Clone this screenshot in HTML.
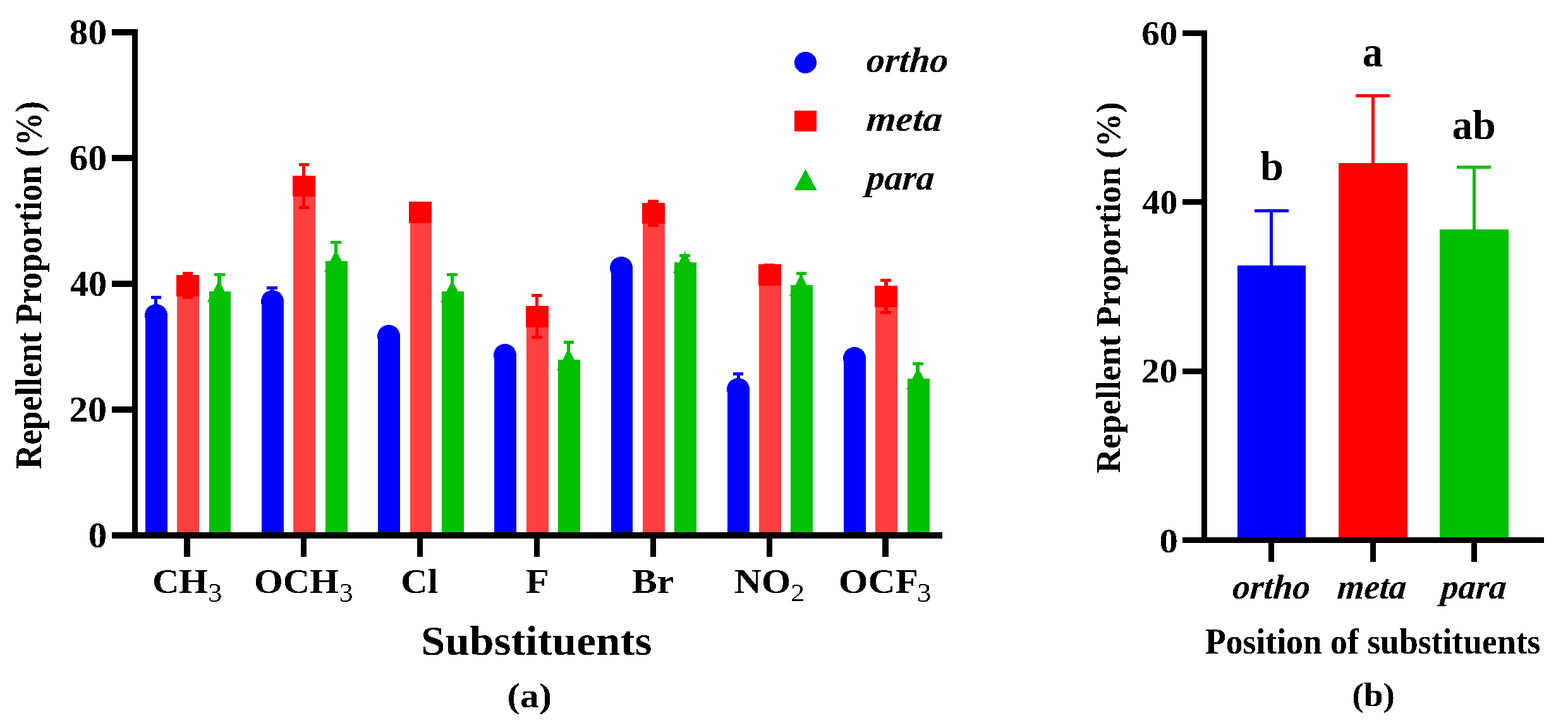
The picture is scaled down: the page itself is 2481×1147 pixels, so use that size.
<!DOCTYPE html>
<html lang="en">
<head>
<meta charset="utf-8">
<title>Repellent Proportion by substituent and position</title>
<style>
html,body{margin:0;padding:0;background:#fff;}
body{width:2481px;height:1147px;overflow:hidden;}
svg{display:block;}
svg text{font-family:"Liberation Serif",serif;font-size:100px;fill:#000;}
</style>
</head>
<body>
<svg width="2481" height="1147" viewBox="0 0 2481 1147">
<rect x="0" y="0" width="2481" height="1147" fill="#ffffff"/>
<g shape-rendering="crispEdges">
<rect x="230" y="499" width="35" height="343" fill="#0000FF"/>
<rect x="239" y="468" width="16" height="5" fill="#0000FF"/>
<rect x="244" y="468" width="5" height="31" fill="#0000FF"/>
<ellipse cx="247" cy="499" rx="18" ry="18" fill="#0000FF"/>
<rect x="280" y="452" width="35" height="390" fill="#FF4040"/>
<rect x="289" y="430" width="16" height="5" fill="#FF0000"/>
<rect x="289" y="468" width="16" height="5" fill="#FF0000"/>
<rect x="294" y="430" width="5" height="43" fill="#FF0000"/>
<rect x="279" y="435" width="36" height="34" fill="#FF0000"/>
<rect x="331" y="461" width="34" height="381" fill="#00C000"/>
<rect x="339" y="432" width="17" height="5" fill="#00C000"/>
<rect x="344" y="432" width="6" height="29" fill="#00C000"/>
<polygon points="346.5,444 365,478 328,478" fill="#00C000"/>
<rect x="414" y="477" width="35" height="365" fill="#0000FF"/>
<rect x="422" y="453" width="17" height="5" fill="#0000FF"/>
<rect x="428" y="453" width="5" height="24" fill="#0000FF"/>
<ellipse cx="431" cy="477" rx="18" ry="18" fill="#0000FF"/>
<rect x="464" y="294" width="35" height="548" fill="#FF4040"/>
<rect x="473" y="258" width="16" height="5" fill="#FF0000"/>
<rect x="473" y="326" width="16" height="5" fill="#FF0000"/>
<rect x="478" y="258" width="5" height="73" fill="#FF0000"/>
<rect x="463" y="278" width="36" height="33" fill="#FF0000"/>
<rect x="515" y="413" width="35" height="429" fill="#00C000"/>
<rect x="523" y="381" width="17" height="5" fill="#00C000"/>
<rect x="529" y="381" width="5" height="32" fill="#00C000"/>
<polygon points="531.5,396 550,430 513,430" fill="#00C000"/>
<rect x="598" y="532" width="35" height="310" fill="#0000FF"/>
<ellipse cx="615" cy="532" rx="18" ry="18" fill="#0000FF"/>
<rect x="649" y="336" width="34" height="506" fill="#FF4040"/>
<rect x="647" y="319" width="36" height="34" fill="#FF0000"/>
<rect x="699" y="461" width="35" height="381" fill="#00C000"/>
<rect x="707" y="432" width="17" height="5" fill="#00C000"/>
<rect x="713" y="432" width="5" height="29" fill="#00C000"/>
<polygon points="715.5,444 734,478 697,478" fill="#00C000"/>
<rect x="782" y="562" width="35" height="280" fill="#0000FF"/>
<ellipse cx="799" cy="562" rx="18" ry="18" fill="#0000FF"/>
<rect x="833" y="501" width="35" height="341" fill="#FF4040"/>
<rect x="841" y="465" width="17" height="5" fill="#FF0000"/>
<rect x="841" y="531" width="17" height="5" fill="#FF0000"/>
<rect x="847" y="465" width="5" height="71" fill="#FF0000"/>
<rect x="832" y="484" width="36" height="34" fill="#FF0000"/>
<rect x="883" y="569" width="35" height="273" fill="#00C000"/>
<rect x="892" y="539" width="16" height="5" fill="#00C000"/>
<rect x="897" y="539" width="5" height="30" fill="#00C000"/>
<polygon points="899.5,552 918,586 881,586" fill="#00C000"/>
<rect x="967" y="424" width="34" height="418" fill="#0000FF"/>
<ellipse cx="983" cy="424" rx="18" ry="18" fill="#0000FF"/>
<rect x="1017" y="338" width="35" height="504" fill="#FF4040"/>
<rect x="1025" y="316" width="17" height="5" fill="#FF0000"/>
<rect x="1025" y="354" width="17" height="5" fill="#FF0000"/>
<rect x="1031" y="316" width="5" height="43" fill="#FF0000"/>
<rect x="1016" y="321" width="36" height="33" fill="#FF0000"/>
<rect x="1067" y="415" width="35" height="427" fill="#00C000"/>
<rect x="1075" y="402" width="17" height="5" fill="#00C000"/>
<rect x="1081" y="402" width="5" height="13" fill="#00C000"/>
<polygon points="1083.5,398 1102,432 1065,432" fill="#00C000"/>
<rect x="1151" y="616" width="35" height="226" fill="#0000FF"/>
<rect x="1160" y="589" width="16" height="5" fill="#0000FF"/>
<rect x="1166" y="589" width="5" height="27" fill="#0000FF"/>
<ellipse cx="1168" cy="616" rx="18" ry="18" fill="#0000FF"/>
<rect x="1201" y="435" width="35" height="407" fill="#FF4040"/>
<rect x="1209" y="417" width="17" height="5" fill="#FF0000"/>
<rect x="1209" y="447" width="17" height="5" fill="#FF0000"/>
<rect x="1215" y="417" width="5" height="35" fill="#FF0000"/>
<rect x="1200" y="418" width="36" height="34" fill="#FF0000"/>
<rect x="1251" y="451" width="35" height="391" fill="#00C000"/>
<rect x="1260" y="430" width="16" height="5" fill="#00C000"/>
<rect x="1265" y="430" width="5" height="21" fill="#00C000"/>
<polygon points="1267.5,434 1286,468 1249,468" fill="#00C000"/>
<rect x="1335" y="567" width="35" height="275" fill="#0000FF"/>
<ellipse cx="1352" cy="567" rx="18" ry="18" fill="#0000FF"/>
<rect x="1385" y="469" width="35" height="373" fill="#FF4040"/>
<rect x="1393" y="441" width="17" height="5" fill="#FF0000"/>
<rect x="1393" y="492" width="17" height="5" fill="#FF0000"/>
<rect x="1399" y="441" width="6" height="56" fill="#FF0000"/>
<rect x="1384" y="452" width="36" height="34" fill="#FF0000"/>
<rect x="1436" y="599" width="35" height="243" fill="#00C000"/>
<rect x="1444" y="573" width="17" height="5" fill="#00C000"/>
<rect x="1449" y="573" width="6" height="26" fill="#00C000"/>
<polygon points="1452.5,582 1471,616 1434,616" fill="#00C000"/>
<rect x="209" y="46" width="9" height="806" fill="#000000"/>
<rect x="177" y="46" width="41" height="10" fill="#000000"/>
<rect x="177" y="245" width="41" height="10" fill="#000000"/>
<rect x="177" y="444" width="41" height="10" fill="#000000"/>
<rect x="177" y="643" width="41" height="10" fill="#000000"/>
<rect x="177" y="842" width="1314" height="10" fill="#000000"/>
<rect x="291" y="852" width="10" height="29" fill="#000000"/>
<rect x="476" y="852" width="9" height="29" fill="#000000"/>
<rect x="660" y="852" width="9" height="29" fill="#000000"/>
<rect x="845" y="852" width="9" height="29" fill="#000000"/>
<rect x="1029" y="852" width="9" height="29" fill="#000000"/>
<rect x="1213" y="852" width="9" height="29" fill="#000000"/>
<rect x="1396" y="852" width="10" height="29" fill="#000000"/>
<ellipse cx="1274.5" cy="99" rx="17.5" ry="17" fill="#0000FF"/>
<rect x="1257" y="175" width="35" height="33" fill="#FF0000"/>
<polygon points="1274.5,267.5 1292.5,301 1256.5,301" fill="#00C000"/>
<rect x="1958" y="420" width="108" height="430" fill="#0000FF"/>
<rect x="1985" y="331" width="54" height="5" fill="#0000FF"/>
<rect x="2009" y="331" width="5" height="89" fill="#0000FF"/>
<rect x="2118" y="258" width="109" height="592" fill="#FF0000"/>
<rect x="2145" y="149" width="54" height="5" fill="#FF0000"/>
<rect x="2170" y="149" width="5" height="109" fill="#FF0000"/>
<rect x="2278" y="363" width="109" height="487" fill="#00C000"/>
<rect x="2305" y="262" width="54" height="5" fill="#00C000"/>
<rect x="2330" y="262" width="5" height="101" fill="#00C000"/>
<rect x="1901" y="48" width="9" height="811" fill="#000000"/>
<rect x="1871" y="48" width="39" height="9" fill="#000000"/>
<rect x="1871" y="315" width="39" height="9" fill="#000000"/>
<rect x="1871" y="583" width="39" height="9" fill="#000000"/>
<rect x="1871" y="850" width="572" height="9" fill="#000000"/>
<rect x="2007" y="859" width="9" height="30" fill="#000000"/>
<rect x="2168" y="859" width="9" height="30" fill="#000000"/>
<rect x="2328" y="859" width="9" height="30" fill="#000000"/>
</g>
<defs>
<filter id="bw" x="0" y="0" width="2481" height="1147" filterUnits="userSpaceOnUse" color-interpolation-filters="sRGB">
<feComponentTransfer><feFuncA type="discrete" tableValues="0 1"/></feComponentTransfer>
</filter>
</defs>
<g filter="url(#bw)">
<text transform="translate(109.53,69.70) scale(0.5966,0.5615)" font-weight="bold">80</text>
<text transform="translate(109.53,268.70) scale(0.5966,0.5615)" font-weight="bold">60</text>
<text transform="translate(110.86,467.70) scale(0.5827,0.5615)" font-weight="bold">40</text>
<text transform="translate(108.97,666.70) scale(0.6024,0.5615)" font-weight="bold">20</text>
<text transform="translate(139.63,865.70) scale(0.5886,0.5615)" font-weight="bold">0</text>
<text transform="translate(240.91,938.10) scale(0.5872,0.5560)" font-weight="bold">CH<tspan x="150.48" y="24.64" font-size="75.54" font-weight="normal">3</tspan></text>
<text transform="translate(402.12,938.10) scale(0.5869,0.5560)" font-weight="bold">OCH<tspan x="228.90" y="24.64" font-size="75.54" font-weight="normal">3</tspan></text>
<text transform="translate(634.33,938.10) scale(0.5841,0.5560)" font-weight="bold">Cl</text>
<text transform="translate(831.92,938.10) scale(0.6059,0.5560)" font-weight="bold">F</text>
<text transform="translate(1000.09,938.10) scale(0.5941,0.5560)" font-weight="bold">Br</text>
<text transform="translate(1161.94,938.10) scale(0.5956,0.5560)" font-weight="bold">NO<tspan x="149.35" y="23.56" font-size="73.74" font-weight="normal">2</tspan></text>
<text transform="translate(1326.92,938.10) scale(0.5977,0.5560)" font-weight="bold">OCF<tspan x="207.75" y="24.64" font-size="75.54" font-weight="normal">3</tspan></text>
<text transform="translate(666.00,1036.40) scale(0.6923,0.6600)" font-weight="bold">Substituents</text>
<text transform="translate(802.45,1119.30) scale(0.6063,0.5500)" font-weight="bold">(a)</text>
<text transform="translate(1369.84,113.70) scale(0.5818,0.5650) skewX(-4.7)" font-weight="bold" font-style="italic">ortho</text>
<text transform="translate(1369.77,206.50) scale(0.5989,0.5650) skewX(-4.7)" font-weight="bold" font-style="italic">meta</text>
<text transform="translate(1370.11,299.70) scale(0.5670,0.5650) skewX(-4.7)" font-weight="bold" font-style="italic">para</text>
<text transform="translate(65.30,742.01) rotate(-90) scale(0.5328,0.5950)" font-weight="bold">Repellent Proportion (%)</text>
<text transform="translate(1806.32,70.65) scale(0.5692,0.5563)" font-weight="bold">60</text>
<text transform="translate(1807.61,337.85) scale(0.5558,0.5563)" font-weight="bold">40</text>
<text transform="translate(1806.05,605.20) scale(0.5720,0.5563)" font-weight="bold">20</text>
<text transform="translate(1834.45,873.81) scale(0.5871,0.5548)" font-weight="bold">0</text>
<text transform="translate(1949.23,946.50) scale(0.5518,0.5550) skewX(-4.7)" font-weight="bold" font-style="italic">ortho</text>
<text transform="translate(2115.03,946.50) scale(0.5457,0.5550) skewX(-4.7)" font-weight="bold" font-style="italic">meta</text>
<text transform="translate(2279.09,946.50) scale(0.5474,0.5550) skewX(-4.7)" font-weight="bold" font-style="italic">para</text>
<text transform="translate(1994.28,284.50) scale(0.6601,0.6550)" font-weight="bold">b</text>
<text transform="translate(2155.66,104.73) scale(0.6534,0.6731)" font-weight="bold">a</text>
<text transform="translate(2297.49,219.60) scale(0.6567,0.6550)" font-weight="bold">ab</text>
<text transform="translate(1906.89,1033.60) scale(0.5366,0.5600)" font-weight="bold">Position of substituents</text>
<text transform="translate(2139.17,1117.50) scale(0.5556,0.5300)" font-weight="bold">(b)</text>
<text transform="translate(1772.00,748.66) rotate(-90) scale(0.5377,0.5530)" font-weight="bold">Repellent Proportion (%)</text>
</g>
</svg>
</body>
</html>
